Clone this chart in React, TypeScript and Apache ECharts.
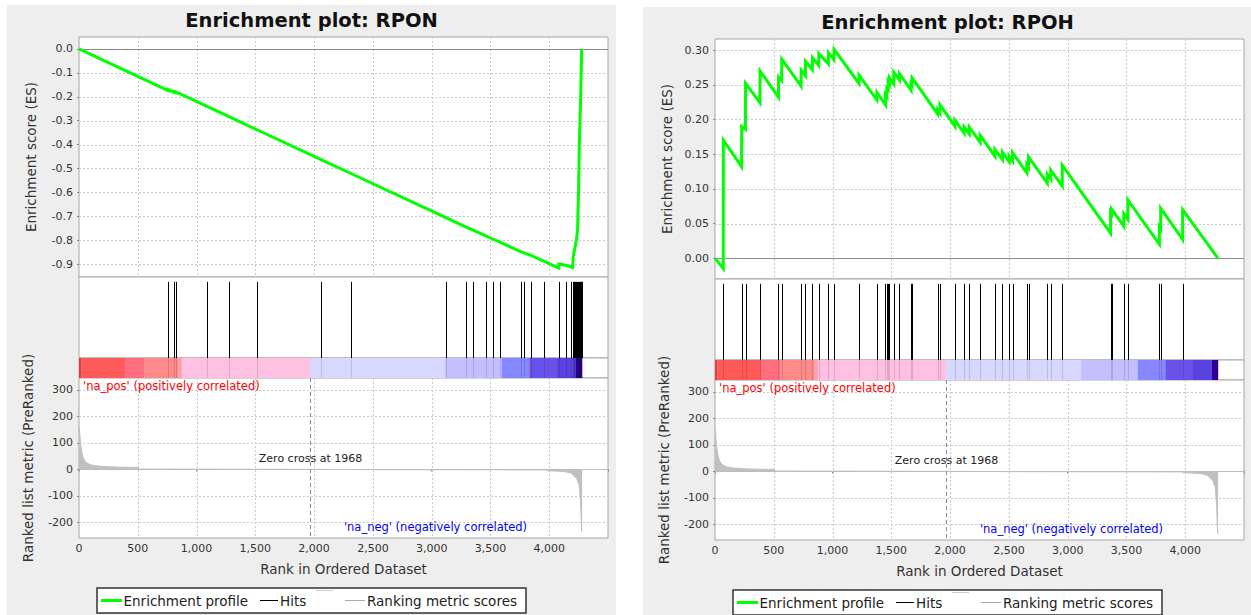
import React, { useEffect, useRef } from "react";
import * as echarts from "echarts";

// ---------------- data ----------------
const rankMax = 4500;
const rankTickStep = 500;
const rankGridTicks = [500, 1000, 1500, 2000, 2500, 3000, 3500, 4000];
const zeroCross = 1968;

const rponEsTicks = [0, -0.1, -0.2, -0.3, -0.4, -0.5, -0.6, -0.7, -0.8, -0.9];
const rpohEsTicks = [0, 0.05, 0.1, 0.15, 0.2, 0.25, 0.3];
const metricTicks = [-200, -100, 0, 100, 200, 300];

const rponEsRange = [-0.954, 0.05];
const rpohEsRange = [-0.03, 0.316];
const metricRange = [-259, 345];

const rponCurve: [number, number][] = [
  [0, 0], [754, -0.173], [754, -0.169], [805, -0.181], [805, -0.178], [827, -0.183], [827, -0.18],
  [1089, -0.24], [1276, -0.283], [1514, -0.338], [2055, -0.462], [2313, -0.521], [3121, -0.706],
  [3289, -0.744], [3348, -0.757], [3461, -0.782], [3518, -0.795], [3581, -0.808], [3756, -0.848],
  [3785, -0.853], [3841, -0.863], [3958, -0.889], [4068, -0.914], [4082, -0.916], [4082, -0.9],
  [4142, -0.905], [4182, -0.911], [4199, -0.914], [4204, -0.87], [4219, -0.83], [4233, -0.792],
  [4241, -0.757], [4250, -0.587], [4256, -0.4], [4262, -0.3], [4268, -0.19], [4276, 0],
];

const rponHits = [
  754, 805, 827, 1089, 1276, 1514, 2055, 2313, 3121, 3289, 3348, 3461, 3518, 3581, 3756, 3785,
  3841, 3958, 4082, 4142, 4182, 4199, 4207, 4215, 4222, 4230, 4238, 4245, 4252, 4258, 4264, 4270, 4276,
];

const rpohCurve: [number, number][] = [
  [0, 0], [70, -0.015], [71, 0.17], [226, 0.132], [227, 0.19], [259, 0.186], [260, 0.252],
  [382, 0.224], [383, 0.27], [540, 0.232], [541, 0.261], [567, 0.256], [568, 0.287],
  [732, 0.248], [733, 0.271], [769, 0.263], [770, 0.284], [828, 0.272], [829, 0.289],
  [882, 0.278], [883, 0.295], [964, 0.28], [965, 0.296], [1012, 0.286], [1013, 0.301],
  [1224, 0.252], [1225, 0.264], [1377, 0.228], [1378, 0.239], [1450, 0.221], [1450, 0.236],
  [1462, 0.233], [1462, 0.245], [1473, 0.243], [1473, 0.255], [1484, 0.252], [1484, 0.26],
  [1521, 0.251], [1521, 0.268], [1569, 0.257], [1569, 0.266], [1668, 0.242], [1668, 0.252],
  [1677, 0.25], [1677, 0.26], [1894, 0.208], [1894, 0.214], [1914, 0.209], [1914, 0.221],
  [2041, 0.19], [2041, 0.199], [2120, 0.18], [2120, 0.189], [2163, 0.179], [2163, 0.189],
  [2256, 0.167], [2256, 0.177], [2381, 0.147], [2381, 0.157], [2445, 0.142], [2445, 0.153],
  [2502, 0.139], [2502, 0.147], [2531, 0.14], [2531, 0.152], [2652, 0.123], [2652, 0.135],
  [2667, 0.131], [2667, 0.146], [2827, 0.108], [2827, 0.121], [2856, 0.114], [2856, 0.127],
  [2954, 0.104], [2954, 0.134], [3365, 0.036], [3365, 0.066], [3373, 0.064], [3373, 0.071],
  [3478, 0.046], [3478, 0.064], [3512, 0.056], [3512, 0.084], [3780, 0.02], [3780, 0.045],
  [3791, 0.042], [3791, 0.072], [3978, 0.027], [3978, 0.07], [4278, 0],
];

const rpohHits = [
  71, 226, 260, 382, 540, 568, 732, 769, 828, 882, 964, 1012, 1224, 1377, 1450, 1462, 1473, 1484,
  1521, 1569, 1668, 1677, 1894, 1914, 2041, 2120, 2163, 2256, 2381, 2445, 2502, 2531, 2652, 2667,
  2827, 2856, 2954, 3365, 3373, 3478, 3512, 3780, 3791, 3978,
];

const metricCurve: [number, number][] = [
  [0, 161], [4, 150], [9, 120], [17, 85], [25, 62], [37, 42], [50, 32], [65, 25], [85, 20],
  [108, 16], [140, 14], [180, 12], [250, 10], [350, 8.5], [505, 7.5], [510, 1.5], [1000, 1],
  [1968, 0], [2600, -1], [3500, -1.5], [3975, -2], [3980, -5], [4100, -7], [4150, -10],
  [4190, -15], [4233, -34], [4255, -59], [4267, -130], [4275, -229], [4280, -236],
];

const colorBarEdges = [0, 19, 390, 552, 845, 874, 1966, 3114, 3597, 3832, 4066, 4228, 4278];
const colorBarColors = [
  "#e63c3c", "#ff5a5a", "#ff6e7e", "#ff8a8a", "#ff9eae", "#ffc0e2", "#d7d7ff",
  "#c6bfff", "#8787ff", "#6852ea", "#5a42e0", "#2e0094",
];

// ---------------- style ----------------
const FONT = '"DejaVu Sans", sans-serif';
const BORDER = "#a6a6a6";
const GRID_LINE = "#c9c9c9";
const GREEN = "#00ff00";

function fmtRank(v: number) {
  if (v >= rankMax) return "";
  return v.toLocaleString("en-US");
}

function buildOption() {
  const grid: any[] = [];
  const xAxis: any[] = [];
  const yAxis: any[] = [];
  const series: any[] = [];
  const graphic: any[] = [];

  graphic.push(
    { type: "rect", z: -10, shape: { x: 7, y: 5, width: 609, height: 610 }, style: { fill: "#eeeeee" } },
    { type: "rect", z: -10, shape: { x: 643, y: 7, width: 608, height: 608 }, style: { fill: "#eeeeee" } }
  );

  const panels = [
    { dx: 0, dy: 0, title: "Enrichment plot: RPON", curve: rponCurve, hits: rponHits, range: rponEsRange, ticks: rponEsTicks, dec: 1 },
    { dx: 636, dy: 2, title: "Enrichment plot: RPOH", curve: rpohCurve, hits: rpohHits, range: rpohEsRange, ticks: rpohEsTicks, dec: 2 },
  ];

  panels.forEach((p, k) => {
    const gi = k * 4;
    const L = 79 + p.dx;
    const T = p.dy;
    const W = 529;
    const gBase = { show: true, borderColor: BORDER, borderWidth: 1, backgroundColor: "#ffffff" };
    grid.push(
      { ...gBase, left: L, top: 37 + T, width: W, height: 240 },
      { ...gBase, left: L, top: 277 + T, width: W, height: 81 },
      { ...gBase, left: L, top: 358 + T, width: W, height: 20 },
      { ...gBase, left: L, top: 378 + T, width: W, height: 160 }
    );
    const xBase = { type: "value", min: 0, max: rankMax, interval: rankTickStep, axisLine: { show: false }, splitLine: { show: false } };
    xAxis.push(
      { ...xBase, gridIndex: gi, axisLabel: { show: false }, axisTick: { show: false } },
      { ...xBase, gridIndex: gi + 1, axisLabel: { show: false }, axisTick: { show: false } },
      { ...xBase, gridIndex: gi + 2, axisLabel: { show: false }, axisTick: { show: false } },
      {
        ...xBase, gridIndex: gi + 3,
        axisTick: { show: true, length: 2, lineStyle: { color: "#888" } },
        axisLabel: { formatter: fmtRank, fontSize: 11, color: "#333", fontFamily: FONT, margin: 5 },
      }
    );
    const yLbl = { fontSize: 11, color: "#333", fontFamily: FONT, margin: 6 };
    yAxis.push(
      {
        type: "value", gridIndex: gi, min: p.range[0], max: p.range[1],
        axisLine: { show: false }, splitLine: { show: false },
        axisTick: { show: true, length: 2, customValues: p.ticks, lineStyle: { color: "#888" } },
        axisLabel: { ...yLbl, customValues: p.ticks, formatter: (v: number) => v.toFixed(p.dec) },
      },
      { type: "value", gridIndex: gi + 1, min: 0, max: 1, show: false, splitLine: { show: false } },
      { type: "value", gridIndex: gi + 2, min: 0, max: 1, show: false, splitLine: { show: false } },
      {
        type: "value", gridIndex: gi + 3, min: metricRange[0], max: metricRange[1],
        axisLine: { show: false }, splitLine: { show: false },
        axisTick: { show: true, length: 2, customValues: metricTicks, lineStyle: { color: "#888" } },
        axisLabel: { ...yLbl, customValues: metricTicks, formatter: (v: number) => String(v) },
      }
    );

    const hLine = (color: string, dash?: number[]) => (params: any, api: any) => {
      const y = api.value(0);
      const a = api.coord([0, y]);
      const b = api.coord([rankMax, y]);
      const yy = Math.round(a[1]) + 0.5;
      return { type: "line", shape: { x1: a[0], y1: yy, x2: b[0], y2: yy }, style: { stroke: color, lineWidth: 1, lineDash: dash } };
    };
    const vLine = (color: string, y0: number, y1: number, dash?: number[]) => (params: any, api: any) => {
      const a = api.coord([api.value(0), y1]);
      const b = api.coord([api.value(0), y0]);
      const x = Math.round(a[0]) + 0.5;
      return { type: "line", shape: { x1: x, y1: a[1], x2: x, y2: b[1] }, style: { stroke: color, lineWidth: 1, lineDash: dash } };
    };

    // ES grid lines
    series.push({
      type: "custom", xAxisIndex: gi, yAxisIndex: gi, z: 1, silent: true,
      data: rankGridTicks.map((v) => [v]), renderItem: vLine(GRID_LINE, p.range[0], p.range[1], [2, 2]),
    });
    series.push({
      type: "custom", xAxisIndex: gi, yAxisIndex: gi, z: 1, silent: true,
      data: p.ticks.filter((v) => v !== 0).map((v) => [v]), renderItem: hLine(GRID_LINE, [2, 2]),
    });
    // ES zero line
    series.push({
      type: "custom", xAxisIndex: gi, yAxisIndex: gi, data: [[0]], z: 2, silent: true,
      renderItem: hLine("#8c8c8c"),
    });
    // ES curve
    series.push({
      type: "line", name: "Enrichment profile", xAxisIndex: gi, yAxisIndex: gi, data: p.curve,
      showSymbol: false, symbol: "none", z: 5, silent: true,
      lineStyle: { color: GREEN, width: 3, join: "miter" },
    });
    // Hits
    series.push({
      type: "custom", name: "Hits", xAxisIndex: gi + 1, yAxisIndex: gi + 1, silent: true,
      data: p.hits.map((h) => [h, 0]),
      renderItem: vLine("#000", 0, 0.94),
    });
    // Color bar
    series.push({
      type: "custom", xAxisIndex: gi + 2, yAxisIndex: gi + 2, silent: true,
      data: colorBarColors.map((c, i) => [colorBarEdges[i], colorBarEdges[i + 1], i]),
      renderItem: (params: any, api: any) => {
        const a = api.coord([api.value(0), 1]);
        const b = api.coord([api.value(1), 0]);
        return {
          type: "rect",
          shape: { x: a[0], y: a[1], width: b[0] - a[0] + 0.3, height: b[1] - a[1] },
          style: { fill: colorBarColors[api.value(2)] },
        };
      },
    });
    // Hits through color bar
    series.push({
      type: "custom", xAxisIndex: gi + 2, yAxisIndex: gi + 2, silent: true, z: 3,
      data: p.hits.map((h) => [h, 0]),
      renderItem: vLine("rgba(0,0,0,0.13)", 0, 1),
    });
    // metric grid lines
    series.push({
      type: "custom", xAxisIndex: gi + 3, yAxisIndex: gi + 3, z: 1, silent: true,
      data: rankGridTicks.map((v) => [v]), renderItem: vLine(GRID_LINE, metricRange[0], metricRange[1], [2, 2]),
    });
    series.push({
      type: "custom", xAxisIndex: gi + 3, yAxisIndex: gi + 3, z: 1, silent: true,
      data: metricTicks.filter((v) => v !== 0).map((v) => [v]), renderItem: hLine(GRID_LINE, [2, 2]),
    });
    // Ranked metric
    series.push({
      type: "line", name: "Ranking metric scores", xAxisIndex: gi + 3, yAxisIndex: gi + 3, data: metricCurve,
      showSymbol: false, symbol: "none", z: 3, silent: true,
      lineStyle: { color: "#c0c0c0", width: 1 },
      areaStyle: { color: "#c0c0c0", opacity: 1 },
    });
    // metric zero line
    series.push({
      type: "custom", xAxisIndex: gi + 3, yAxisIndex: gi + 3, data: [[0]], z: 4, silent: true,
      renderItem: hLine("#bdbdbd"),
    });
    // zero cross dashed line
    series.push({
      type: "custom", xAxisIndex: gi + 3, yAxisIndex: gi + 3, data: [[zeroCross]], z: 4, silent: true,
      renderItem: vLine("#8a8a8a", metricRange[0], metricRange[1], [4, 3]),
    });

    const D = p.dx;
    const txt = (x: number, y: number, text: string, font: string, fill: string, align = "left", extra: any = {}) => ({
      type: "text", x, y, z: 100, ...extra,
      style: { text, font, fill, textAlign: align, textVerticalAlign: "middle", align, verticalAlign: "middle" },
    });
    // Title
    graphic.push(txt(311.5 + D, 20.5 + T, p.title, `bold 19.5px ${FONT}`, "#111", "center"));
    // Axis names
    graphic.push(txt(31 + D, 157 + T, "Enrichment score (ES)", `13.5px ${FONT}`, "#333", "center", { rotation: Math.PI / 2 }));
    graphic.push(txt(28 + D, 458 + T, "Ranked list metric (PreRanked)", `13.5px ${FONT}`, "#333", "center", { rotation: Math.PI / 2 }));
    graphic.push(txt(343.5 + D, 569 + T, "Rank in Ordered Dataset", `13.5px ${FONT}`, "#333", "center"));
    // annotations
    graphic.push(txt(83 + D, 386 + T, "'na_pos' (positively correlated)", `11.5px ${FONT}`, "#ff0000", "left"));
    graphic.push(txt(310.5 + D, 458 + T, "Zero cross at 1968", `11px ${FONT}`, "#222", "center"));
    graphic.push(txt(435.5 + D, 527 + T, "'na_neg' (negatively correlated)", `11.5px ${FONT}`, "#0000ff", "center"));
    // Legend
    const ly = 600.5 + T;
    graphic.push({ type: "rect", z: 90, shape: { x: 97 + D, y: 588 + T, width: 429, height: 25 }, style: { fill: "#fff", stroke: "#333", lineWidth: 1.5 } });
    graphic.push({ type: "line", z: 95, shape: { x1: 101 + D, y1: ly, x2: 122 + D, y2: ly }, style: { stroke: GREEN, lineWidth: 3 } });
    graphic.push(txt(123.5 + D, ly, "Enrichment profile", `13.5px ${FONT}`, "#222", "left"));
    graphic.push({ type: "line", z: 95, shape: { x1: 260 + D, y1: ly, x2: 278 + D, y2: ly }, style: { stroke: "#000", lineWidth: 1 } });
    graphic.push(txt(280 + D, ly, "Hits", `13.5px ${FONT}`, "#222", "left"));
    graphic.push({ type: "line", z: 95, shape: { x1: 316 + D, y1: 590.5 + T, x2: 333 + D, y2: 590.5 + T }, style: { stroke: "#cfcfcf", lineWidth: 1 } });
    graphic.push({ type: "line", z: 95, shape: { x1: 345 + D, y1: ly, x2: 365 + D, y2: ly }, style: { stroke: "#aaaaaa", lineWidth: 1 } });
    graphic.push(txt(367 + D, ly, "Ranking metric scores", `13.5px ${FONT}`, "#222", "left"));
  });

  return {
    animation: false,
    backgroundColor: "#ffffff",
    textStyle: { fontFamily: FONT },
    grid,
    xAxis,
    yAxis,
    series,
    graphic,
  };
}

export default function App() {
  const ref = useRef<HTMLDivElement>(null);
  useEffect(() => {
    if (!ref.current) return;
    const chart = echarts.init(ref.current, null, { renderer: "svg" });
    chart.setOption(buildOption() as any);
    return () => chart.dispose();
  }, []);
  return (
    <div
      ref={ref}
      style={{ position: "absolute", left: 0, top: 0, width: 1251, height: 615, background: "#fff" }}
    />
  );
}
